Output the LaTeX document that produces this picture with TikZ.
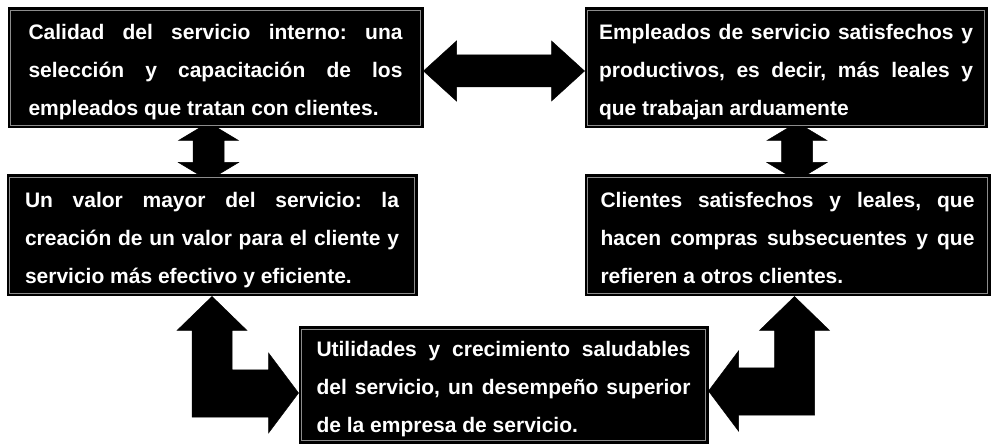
\documentclass[tikz,border=0pt]{standalone}
\usepackage{fontspec}
\setmainfont{Liberation Sans}
\usetikzlibrary{calc}
\pgfdeclarelayer{paper}
\pgfdeclarelayer{back}
\pgfsetlayers{paper,back,main}
\frenchspacing

% width of the text block inside each panel
\newlength\txtw
\setlength\txtw{374pt}
% three lines: the first two justified, the last one left aligned
\newcommand\boxlines[3]{\parbox[t]{\txtw}{\rule{0pt}{25pt}\makebox[\txtw][s]{#1}\\
  \makebox[\txtw][s]{#2}\\
  #3\rule[-5pt]{0pt}{5pt}}}

\tikzset{
  panel/.style n args={2}{fill=black, draw=black, line width=1pt,
    minimum width=#1, minimum height=#2, inner sep=0pt, text=white,
    font=\fontsize{21pt}{38pt}\selectfont\bfseries},
  frame/.style={draw=white!55!black, line width=0.6pt},
  blockarrow/.style={fill=black, draw=black, line width=0.5pt, line join=miter}
}

\begin{document}
\begin{tikzpicture}[x=1pt, y=-1pt]
\begin{pgfonlayer}{paper}
  \fill[white] (0,0) rectangle (991,446);
\end{pgfonlayer}
\useasboundingbox (0,0) rectangle (991,446);

% the five panels
\node[panel={415}{120}] (b1) at (215.5,68)
  {\boxlines{Calidad del servicio interno: una}{selección y capacitación de los}{empleados que tratan con clientes.}};
\node[panel={402}{120}] (b2) at (786,68)
  {\boxlines{Empleados de servicio satisfechos y}{productivos, es decir, más leales y}{que trabajan arduamente}};
\node[panel={410}{121}] (b3) at (212,235.5)
  {\boxlines{Un valor mayor del servicio: la}{creación de un valor para el cliente y}{servicio más efectivo y eficiente.}};
\node[panel={405}{121}] (b4) at (787.5,235.5)
  {\boxlines{Clientes satisfechos y leales, que}{hacen compras subsecuentes y que}{refieren a otros clientes.}};
\node[panel={409}{116}] (b5) at (503.5,385)
  {\boxlines{Utilidades y crecimiento saludables}{del servicio, un desempeño superior}{de la empresa de servicio.}};

% thin light frame just inside each panel
\foreach \b in {b1,b2,b3,b4,b5}
  \draw[frame] ($(\b.north west)+(3,3)$) rectangle ($(\b.south east)+(-3,-3)$);

\begin{pgfonlayer}{back}
  % horizontal double arrow between the two top panels
  \coordinate (hL) at ($(b1.east)+(0,3)$);
  \coordinate (hR) at ($(b2.west)+(0,3)$);
  \path[blockarrow] (hL) -- ++(33,-30) -- ++(0,14) -- ($(hR)+(-33,-16)$) -- ++(0,-14)
    -- (hR) -- ++(-33,30) -- ++(0,-14) -- ($(hL)+(33,16)$) -- ++(0,14) -- cycle;

  % vertical double arrow on the left
  \coordinate (va) at ($(b1.south)+(-7,-6)$);
  \coordinate (vb) at ($(va |- b3.north)+(0,6)$);
  \path[blockarrow] (va) -- ++(30,18) -- ++(-14.5,0) -- ($(vb)+(15.5,-18)$) -- ++(14.5,0)
    -- (vb) -- ++(-30,-18) -- ++(14.5,0) -- ($(va)+(-15.5,18)$) -- ++(-14.5,0) -- cycle;

  % vertical double arrow on the right
  \coordinate (wa) at ($(b2.south)+(11,-6)$);
  \coordinate (wb) at ($(wa |- b4.north)+(0,6)$);
  \path[blockarrow] (wa) -- ++(30,18) -- ++(-14.5,0) -- ($(wb)+(15.5,-18)$) -- ++(14.5,0)
    -- (wb) -- ++(-30,-18) -- ++(14.5,0) -- ($(wa)+(-15.5,18)$) -- ++(-14.5,0) -- cycle;

  % bent double arrow from the lower left panel to the bottom panel
  \coordinate (la) at (b3.south);
  \coordinate (lb) at ($(b5.west)+(0,8)$);
  \path[blockarrow] (la) -- ++(35,34) -- ++(-15,0) -- ($(la |- lb)+(20,-23)$)
    -- ($(lb)+(-30,-23)$) -- ($(lb)+(-30,-40)$) -- (lb) -- ($(lb)+(-30,40)$)
    -- ($(lb)+(-30,24)$) -- ($(la |- lb)+(-20,24)$) -- ($(la)+(-20,34)$)
    -- ($(la)+(-35,34)$) -- cycle;

  % bent double arrow from the lower right panel to the bottom panel
  \coordinate (ra) at ($(b4.south)+(7,0)$);
  \coordinate (rb) at ($(b5.east)+(0,6)$);
  \path[blockarrow] (ra) -- ++(-35,34) -- ++(15,0) -- ($(ra |- rb)+(-20,-23)$)
    -- ($(rb)+(30,-23)$) -- ($(rb)+(30,-40)$) -- (rb) -- ($(rb)+(30,40)$)
    -- ($(rb)+(30,24)$) -- ($(ra |- rb)+(20,24)$) -- ($(ra)+(20,34)$)
    -- ($(ra)+(35,34)$) -- cycle;
\end{pgfonlayer}
\end{tikzpicture}
\end{document}
